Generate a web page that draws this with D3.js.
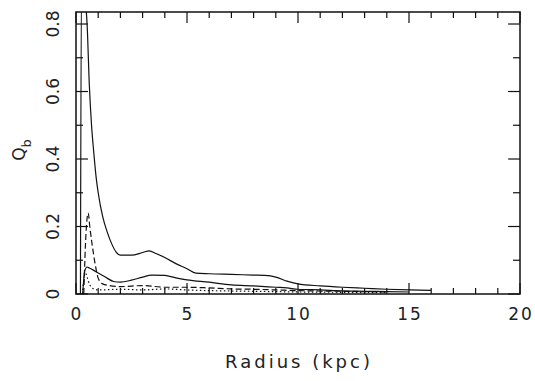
<!DOCTYPE html>
<html><head><meta charset="utf-8">
<script src="https://cdn.jsdelivr.net/npm/d3@7"></script>
<style>body{margin:0;background:#fff}svg{display:block}text{font-family:"DejaVu Sans",sans-serif;fill:#222}</style>
</head><body>
<svg id="c" width="535" height="381"></svg>
<script>
// Data
const radiusA = [0.2,0.25,0.4,0.5,0.6,0.7,0.8,0.9,1.0,1.2,1.4,1.6,1.8,2.0,2.5,3.0,3.3,3.6,4.0,4.5,5.0,5.4,6,7,8,8.5,9,9.5,10,11,12,13,14,15,16];
const qbA =     [0,0.95,0.88,0.80,0.62,0.50,0.42,0.35,0.30,0.23,0.185,0.15,0.125,0.115,0.115,0.123,0.128,0.12,0.108,0.09,0.075,0.062,0.060,0.058,0.056,0.055,0.05,0.038,0.03,0.024,0.02,0.017,0.014,0.012,0.011];
const radiusB = [0.3,0.4,0.5,0.6,0.8,1.0,1.2,1.4,1.7,2.0,2.5,3.0,3.4,4.0,4.5,5.0,6,7,8,9,9.5,10,11,12,13,14,15];
const qbB =     [0,0.07,0.08,0.077,0.07,0.062,0.055,0.047,0.037,0.035,0.041,0.05,0.056,0.055,0.048,0.042,0.035,0.027,0.024,0.02,0.018,0.014,0.012,0.009,0.008,0.007,0.006];
const radiusC = [0.35,0.45,0.55,0.62,0.72,0.86,1.0,1.2,1.5,2,3,4,5,6,7,8,9,10,12,14];
const qbC =     [0,0.18,0.24,0.2,0.15,0.09,0.047,0.03,0.025,0.022,0.025,0.02,0.02,0.018,0.015,0.014,0.012,0.01,0.008,0.006];
const radiusD = [0.3,0.4,0.5,0.6,0.8,1.0,2,3,4,5,6,8,10,12,14];
const qbD =     [0,0.065,0.05,0.03,0.015,0.012,0.014,0.012,0.015,0.012,0.01,0.008,0.006,0.005,0.004];
const xTicks = [0,5,10,15,20];
const yTicks = [0,0.2,0.4,0.6,0.8];

const svg = d3.select("#c");
const L=76,R=520,T=12,B=294;
const x = d3.scaleLinear().domain([0,20]).range([L,R]);
const y = d3.scaleLinear().domain([0,0.8356]).range([B,T]);

svg.append("clipPath").attr("id","clip").append("rect").attr("x",L).attr("y",T).attr("width",R-L).attr("height",B-T);

const line = d3.line().x(d=>x(d[0])).y(d=>y(d[1])).curve(d3.curveMonotoneX);
const series = [
  {r:radiusA,q:qbA,dash:null},
  {r:radiusB,q:qbB,dash:null},
  {r:radiusC,q:qbC,dash:"6,3"},
  {r:radiusD,q:qbD,dash:"1.5,2.5"}
];
const g = svg.append("g").attr("clip-path","url(#clip)");
series.forEach(s=>{
  g.append("path").datum(s.r.map((r,i)=>[r,s.q[i]]))
   .attr("d",line).attr("fill","none").attr("stroke","#111").attr("stroke-width",1.2)
   .attr("stroke-dasharray",s.dash);
});

// frame
svg.append("rect").attr("x",L).attr("y",T).attr("width",R-L).attr("height",B-T)
  .attr("fill","none").attr("stroke","#111").attr("stroke-width",1.5);

// ticks
const tk = svg.append("g").attr("stroke","#111").attr("stroke-width",1.2);
d3.range(0,21,1).forEach(v=>{
  const len = v%5===0?11:6;
  tk.append("line").attr("x1",x(v)).attr("x2",x(v)).attr("y1",B).attr("y2",B-len);
  tk.append("line").attr("x1",x(v)).attr("x2",x(v)).attr("y1",T).attr("y2",T+len);
});
d3.range(0,0.81,0.1).forEach(v=>{
  const major = Math.abs(Math.round(v*10)%2)===0;
  const len = major?12:7;
  tk.append("line").attr("y1",y(v)).attr("y2",y(v)).attr("x1",L).attr("x2",L+len);
  tk.append("line").attr("y1",y(v)).attr("y2",y(v)).attr("x1",R).attr("x2",R-len);
});

// tick labels
svg.selectAll(".xl").data(xTicks).enter().append("text")
  .attr("x",d=>x(d)+1).attr("y",320).attr("text-anchor","middle").attr("font-size",17)
  .attr("letter-spacing",2).text(d=>d);
svg.selectAll(".yl").data(yTicks).enter().append("text")
  .attr("transform",d=>`translate(59,${y(d)}) rotate(-90)`).attr("text-anchor","middle")
  .attr("font-size",17).text(d=>d===0?"0":d.toFixed(1));

// axis titles
svg.append("text").attr("x",299).attr("y",368).attr("text-anchor","middle").attr("font-size",18)
  .attr("letter-spacing",3).text("Radius (kpc)");
const yt = svg.append("text").attr("transform","translate(25,150) rotate(-90)").attr("text-anchor","middle").attr("font-size",17);
yt.append("tspan").text("Q");
yt.append("tspan").attr("dy",6).attr("font-size",13).text("b");
</script>
</body></html>
